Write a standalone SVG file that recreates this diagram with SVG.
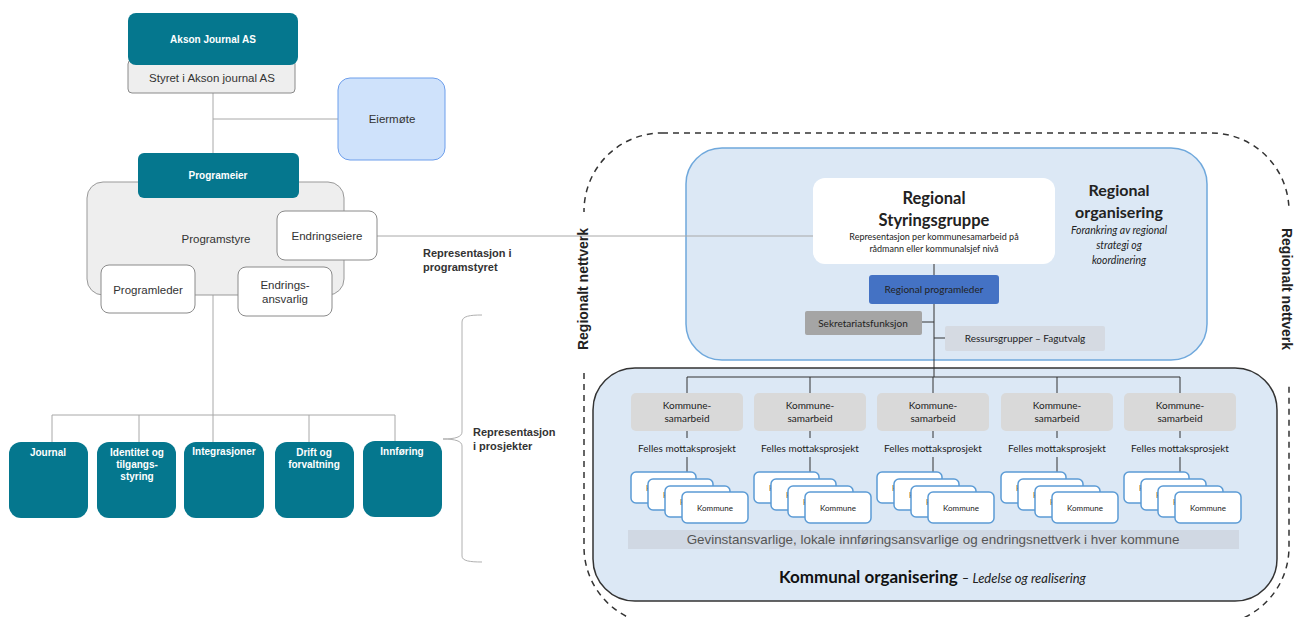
<svg xmlns="http://www.w3.org/2000/svg" width="1295" height="617" viewBox="0 0 1295 617">
  <style>
    .teal { fill: #05778e; }
    .wt { fill: #ffffff; font-family: "Liberation Sans", Arial, sans-serif; font-weight: bold; font-size: 10px; text-anchor: middle; }
    .lt { fill: #333333; font-family: "Liberation Sans", Arial, sans-serif; font-size: 11.5px; text-anchor: middle; }
    .wbox { fill: #ffffff; stroke: #8a8a8a; stroke-width: 1; }
    .conn { stroke: #a8a8a8; stroke-width: 1; fill: none; }
    .dconn { stroke: #333333; stroke-width: 1; fill: none; }
    .cal { font-family: Lato, "Open Sans", sans-serif; text-anchor: middle; fill: #222222; }
    .ks { fill: #d9d9d9; }
    .kom { fill: #ffffff; stroke: #5b9bd5; stroke-width: 1.5; }
  </style>

  <rect x="0" y="0" width="1295" height="617" fill="#ffffff"/>

  <!-- Regional network border -->
  <g id="regionalt-nettverk">
    <rect x="584" y="133" width="705" height="492" rx="78" fill="none" stroke="#333333" stroke-width="1.5" stroke-dasharray="6 5"/>
    <rect x="572" y="212" width="22" height="160" fill="#ffffff"/>
    <rect x="1279" y="206" width="16" height="180" fill="#ffffff"/>
    <text transform="translate(588 289) rotate(-90)" font-family="'Liberation Sans', Arial, sans-serif" font-size="14" font-weight="bold" fill="#222" text-anchor="middle">Regionalt nettverk</text>
    <text transform="translate(1282 289) rotate(90)" font-family="'Liberation Sans', Arial, sans-serif" font-size="14" font-weight="bold" fill="#222" text-anchor="middle">Regionalt nettverk</text>
  </g>

  <!-- Regional organisation panel -->
  <g id="regional-organisering">
    <rect x="686" y="148" width="521" height="212" rx="36" fill="#dce8f5" stroke="#6fa8dc" stroke-width="1.5"/>
    <text class="cal" x="1119" y="196" font-size="16" font-weight="bold">Regional</text>
    <text class="cal" x="1119" y="218" font-size="16" font-weight="bold">organisering</text>
    <text class="cal" x="1119" y="234" font-size="10.5" font-style="italic" fill="#333">Forankring av regional</text>
    <text class="cal" x="1119" y="249" font-size="10.5" font-style="italic" fill="#333">strategi og</text>
    <text class="cal" x="1119" y="264" font-size="10.5" font-style="italic" fill="#333">koordinering</text>
  </g>

  <!-- Municipal organisation panel -->
  <g id="kommunal-organisering">
    <rect x="593" y="368" width="684" height="233" rx="42" fill="#dce8f5" stroke="#333333" stroke-width="1.5"/>
    <rect x="628" y="530" width="611" height="19" fill="#d0d8e3"/>
    <text x="933" y="544" font-family="'Liberation Sans', Arial, sans-serif" font-size="13.4" fill="#555555" text-anchor="middle">Gevinstansvarlige, lokale innføringsansvarlige og endringsnettverk i hver kommune</text>
    <text x="779" y="583" font-family="Lato, 'Open Sans', sans-serif" font-size="17" font-weight="bold" fill="#111">Kommunal organisering <tspan font-size="13" font-weight="normal" font-style="italic" fill="#222">– Ledelse og realisering</tspan></text>
  </g>

  <!-- Connectors -->
  <g id="connectors">
    <path class="conn" d="M213 93 V153 M213 119 H338"/>
    <path class="conn" d="M377 236 H813"/>
    <path class="conn" d="M213 295 V415 M52 415 H395 M52 415 V442 M139 415 V442 M213 415 V442 M309 415 V442 M395 415 V441"/>
    <path d="M482 315 C470 315 462 316 462 322 V432 C462 437 455 439 443 439 C455 439 462 441 462 446 V556 C462 561 470 562 482 562" fill="none" stroke="#b0b0b0" stroke-width="1"/>
    <path class="dconn" d="M934 263 V276 M934 304 V377 M922 322 H934 M934 338 H945"/>
    <path class="dconn" d="M687 377 H1180 M687 377 V394 M810 377 V394 M933 377 V394 M1057 377 V394 M1180 377 V394"/>
    <path class="dconn" d="M687 431 V438 M810 431 V438 M933 431 V438 M1057 431 V438 M1180 431 V438"/>
    <path class="dconn" d="M687 457 V472 M810 457 V472 M933 457 V472 M1057 457 V472 M1180 457 V472"/>
  </g>

  <!-- Left-hand programme organisation -->
  <g id="akson-journal">
    <rect x="128" y="60" width="167" height="33" rx="4" fill="#eeeeee" stroke="#8a8a8a"/>
    <text class="lt" x="212" y="82" font-size="11">Styret i Akson journal AS</text>
    <rect class="teal" x="128" y="13" width="170" height="52" rx="8"/>
    <text class="wt" x="213" y="43">Akson Journal AS</text>
  </g>

  <g id="eiermote">
    <rect x="338" y="78" width="107" height="82" rx="12" fill="#cfe2fb" stroke="#6d9eeb" stroke-width="1"/>
    <text class="lt" x="392" y="123" font-size="10">Eiermøte</text>
  </g>

  <g id="programstyre">
    <rect x="87" y="182" width="257" height="113" rx="16" fill="#eeeeee" stroke="#999999" stroke-width="1"/>
    <text class="lt" x="216" y="243">Programstyre</text>
  </g>

  <g id="programeier">
    <rect class="teal" x="138" y="153" width="161" height="45" rx="6"/>
    <text class="wt" x="218" y="179">Programeier</text>
  </g>

  <g id="endringseiere">
    <rect class="wbox" x="277" y="211" width="100" height="49" rx="8"/>
    <text class="lt" x="327" y="240">Endringseiere</text>
  </g>

  <g id="programleder">
    <rect class="wbox" x="101" y="265" width="94" height="48" rx="8"/>
    <text class="lt" x="148" y="294">Programleder</text>
  </g>

  <g id="endringsansvarlig">
    <rect class="wbox" x="238" y="267" width="94" height="49" rx="8"/>
    <text class="lt" x="285" y="289">Endrings-</text>
    <text class="lt" x="285" y="303">ansvarlig</text>
  </g>

  <g id="journal">
    <rect class="teal" x="9" y="442" width="79" height="76" rx="12"/>
    <text class="wt" x="48" y="456">Journal</text>
  </g>
  <g id="identitet">
    <rect class="teal" x="97" y="442" width="79" height="76" rx="12"/>
    <text class="wt" x="137" y="456">Identitet og</text>
    <text class="wt" x="137" y="468">tilgangs-</text>
    <text class="wt" x="137" y="480">styring</text>
  </g>
  <g id="integrasjoner">
    <rect class="teal" x="184" y="442" width="80" height="76" rx="12"/>
    <text class="wt" x="224" y="455">Integrasjoner</text>
  </g>
  <g id="drift">
    <rect class="teal" x="275" y="442" width="79" height="76" rx="12"/>
    <text class="wt" x="314" y="456">Drift og</text>
    <text class="wt" x="314" y="468">forvaltning</text>
  </g>
  <g id="innforing">
    <rect class="teal" x="363" y="441" width="79" height="76" rx="12"/>
    <text class="wt" x="402" y="455">Innføring</text>
  </g>

  <g id="labels-left">
    <text x="423" y="257" font-family="'Liberation Sans', Arial, sans-serif" font-size="11" font-weight="bold" fill="#333">Representasjon i</text>
    <text x="423" y="271" font-family="'Liberation Sans', Arial, sans-serif" font-size="11" font-weight="bold" fill="#333">programstyret</text>
    <text x="473" y="436" font-family="'Liberation Sans', Arial, sans-serif" font-size="11" font-weight="bold" fill="#333">Representasjon</text>
    <text x="473" y="450" font-family="'Liberation Sans', Arial, sans-serif" font-size="11" font-weight="bold" fill="#333">i prosjekter</text>
  </g>

  <!-- Regional steering -->
  <g id="regional-styringsgruppe">
    <rect x="813" y="178" width="242" height="86" rx="12" fill="#ffffff"/>
    <text class="cal" x="934" y="204" font-size="16.5" font-weight="bold">Regional</text>
    <text class="cal" x="934" y="226" font-size="16.5" font-weight="bold">Styringsgruppe</text>
    <text class="cal" x="934" y="240" font-size="9">Representasjon per kommunesamarbeid på</text>
    <text class="cal" x="934" y="252" font-size="9">rådmann eller kommunalsjef nivå</text>
  </g>

  <g id="regional-programleder">
    <rect x="869" y="275" width="130" height="29" rx="3" fill="#4472c4"/>
    <text class="cal" x="934" y="293" font-size="10" fill="#ffffff">Regional programleder</text>
  </g>

  <g id="sekretariat">
    <rect x="805" y="311" width="117" height="24" rx="2" fill="#a5a5a5"/>
    <text class="cal" x="863" y="327" font-size="10" fill="#ffffff">Sekretariatsfunksjon</text>
  </g>

  <g id="ressursgrupper">
    <rect x="945" y="326" width="160" height="25" rx="2" fill="#d5dae2"/>
    <text class="cal" x="1025" y="342" font-size="10" fill="#444">Ressursgrupper – Fagutvalg</text>
  </g>

  <!-- Municipal collaborations -->
  <defs>
    <g id="kommune-stack">
      <rect class="kom" x="-56" y="472" width="65" height="31" rx="5"/>
      <text class="cal" x="-23" y="491" font-size="8">Kommune</text>
      <rect class="kom" x="-39" y="479" width="65" height="31" rx="5"/>
      <text class="cal" x="-6" y="498" font-size="8">Kommune</text>
      <rect class="kom" x="-22" y="486" width="65" height="31" rx="5"/>
      <text class="cal" x="11" y="505" font-size="8">Kommune</text>
      <rect class="kom" x="-5" y="492" width="66" height="31" rx="5"/>
      <text class="cal" x="28" y="511" font-size="8">Kommune</text>
    </g>
    <g id="samarbeid">
      <rect class="ks" x="-56" y="393" width="112" height="38" rx="5"/>
      <text class="cal" x="0" y="409" font-size="10">Kommune-</text>
      <text class="cal" x="0" y="422" font-size="10">samarbeid</text>
      <text class="cal" x="0" y="452" font-size="10">Felles mottaksprosjekt</text>
    </g>
  </defs>

  <g id="kommunesamarbeid-1" transform="translate(687 0)">
    <use href="#samarbeid"/>
    <use href="#kommune-stack"/>
  </g>
  <g id="kommunesamarbeid-2" transform="translate(810 0)">
    <use href="#samarbeid"/>
    <use href="#kommune-stack"/>
  </g>
  <g id="kommunesamarbeid-3" transform="translate(933 0)">
    <use href="#samarbeid"/>
    <use href="#kommune-stack"/>
  </g>
  <g id="kommunesamarbeid-4" transform="translate(1057 0)">
    <use href="#samarbeid"/>
    <use href="#kommune-stack"/>
  </g>
  <g id="kommunesamarbeid-5" transform="translate(1180 0)">
    <use href="#samarbeid"/>
    <use href="#kommune-stack"/>
  </g>
</svg>
